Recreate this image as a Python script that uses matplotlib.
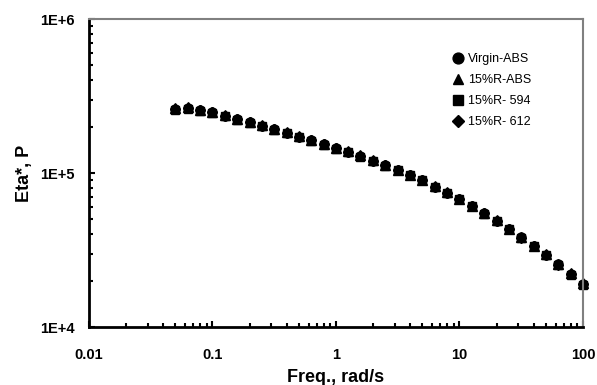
import numpy as np
import matplotlib.pyplot as plt
from matplotlib.ticker import LogLocator, FuncFormatter, NullFormatter

plt.rcParams['font.family'] = ['Liberation Sans', 'DejaVu Sans']

# Frequency sweep, rad/s (10 points per decade)
freq = [0.05, 0.063, 0.079, 0.1, 0.126, 0.158, 0.2, 0.251, 0.316, 0.398,
        0.501, 0.631, 0.794, 1.0, 1.26, 1.58, 2.0, 2.51, 3.16, 3.98,
        5.01, 6.31, 7.94, 10.0, 12.6, 15.8, 20.0, 25.1, 31.6, 39.8,
        50.1, 63.1, 79.4, 100.0]

# Complex viscosity Eta*, P
virgin_abs = [2.61e5, 2.66e5, 2.57e5, 2.49e5, 2.36e5, 2.24e5, 2.14e5, 2.03e5, 1.93e5, 1.83e5,
              1.72e5, 1.64e5, 1.54e5, 1.45e5, 1.37e5, 1.29e5, 1.20e5, 1.12e5, 1.045e5, 9.70e4,
              9.01e4, 8.15e4, 7.45e4, 6.78e4, 6.11e4, 5.48e4, 4.91e4, 4.33e4, 3.82e4, 3.36e4,
              2.94e4, 2.55e4, 2.21e4, 1.90e4]
r15_abs = [2.63e5, 2.68e5, 2.58e5, 2.50e5, 2.37e5, 2.25e5, 2.15e5, 2.04e5, 1.94e5, 1.84e5,
           1.73e5, 1.65e5, 1.55e5, 1.46e5, 1.38e5, 1.30e5, 1.21e5, 1.13e5, 1.05e5, 9.75e4,
           9.05e4, 8.20e4, 7.50e4, 6.82e4, 6.15e4, 5.51e4, 4.94e4, 4.36e4, 3.85e4, 3.38e4,
           2.96e4, 2.57e4, 2.23e4, 1.92e4]
r15_594 = [2.58e5, 2.62e5, 2.54e5, 2.46e5, 2.33e5, 2.22e5, 2.12e5, 2.01e5, 1.91e5, 1.81e5,
           1.71e5, 1.62e5, 1.53e5, 1.44e5, 1.36e5, 1.28e5, 1.19e5, 1.11e5, 1.04e5, 9.65e4,
           8.96e4, 8.10e4, 7.40e4, 6.74e4, 6.07e4, 5.45e4, 4.88e4, 4.30e4, 3.80e4, 3.34e4,
           2.92e4, 2.53e4, 2.19e4, 1.88e4]
r15_612 = [2.60e5, 2.64e5, 2.56e5, 2.48e5, 2.35e5, 2.23e5, 2.13e5, 2.02e5, 1.92e5, 1.82e5,
           1.72e5, 1.63e5, 1.54e5, 1.45e5, 1.37e5, 1.29e5, 1.20e5, 1.12e5, 1.04e5, 9.68e4,
           8.98e4, 8.12e4, 7.43e4, 6.76e4, 6.09e4, 5.46e4, 4.90e4, 4.32e4, 3.81e4, 3.35e4,
           2.93e4, 2.54e4, 2.20e4, 1.89e4]

fig = plt.figure(figsize=(5.97, 3.85), dpi=100)
ax = fig.add_axes([0.149, 0.1506, 0.8275, 0.80])

ms = 6.5
ax.plot(freq, virgin_abs, 'o', color='black', ms=ms, label='Virgin-ABS', clip_on=False)
ax.plot(freq, r15_abs, '^', color='black', ms=ms, label='15%R-ABS', clip_on=False)
ax.plot(freq, r15_594, 's', color='black', ms=ms * 0.9, label='15%R- 594', clip_on=False)
ax.plot(freq, r15_612, 'D', color='black', ms=ms * 0.75, label='15%R- 612', clip_on=False)

ax.set_xscale('log')
ax.set_yscale('log')
ax.set_xlim(0.01, 100)
ax.set_ylim(1e4, 1e6)

ax.xaxis.set_major_locator(LogLocator(base=10))
ax.yaxis.set_major_locator(LogLocator(base=10))
ax.xaxis.set_minor_locator(LogLocator(base=10, subs=np.arange(2, 10)))
ax.yaxis.set_minor_locator(LogLocator(base=10, subs=np.arange(2, 10)))
ax.xaxis.set_major_formatter(FuncFormatter(lambda v, p: '%g' % v))
ax.yaxis.set_major_formatter(FuncFormatter(lambda v, p: '1E+%d' % round(np.log10(v))))
ax.xaxis.set_minor_formatter(NullFormatter())
ax.yaxis.set_minor_formatter(NullFormatter())

ax.tick_params(which='both', direction='in', width=1.5, top=False, right=False)
ax.tick_params(which='major', length=4, labelsize=10.5)
ax.tick_params(which='minor', length=3)
ax.tick_params(axis='x', which='major', pad=15)
ax.tick_params(axis='y', which='major', pad=10)
for lab in ax.get_xticklabels() + ax.get_yticklabels():
    lab.set_fontweight('bold')

ax.spines['left'].set_linewidth(2)
ax.spines['bottom'].set_linewidth(2)
ax.spines['top'].set_color('#808080')
ax.spines['right'].set_color('#808080')
ax.spines['top'].set_linewidth(1.5)
ax.spines['right'].set_linewidth(1.5)

ax.set_xlabel('Freq., rad/s', fontsize=13, fontweight='bold', labelpad=5)
ax.set_ylabel('Eta*, P', fontsize=13, fontweight='bold', labelpad=5)

ax.legend(loc='upper left', bbox_to_anchor=(0.712, 0.925), frameon=False,
          fontsize=9, handletextpad=0.3, handlelength=1.0, labelspacing=0.72,
          markerscale=1.2)

fig.savefig('out.png', dpi=100)
